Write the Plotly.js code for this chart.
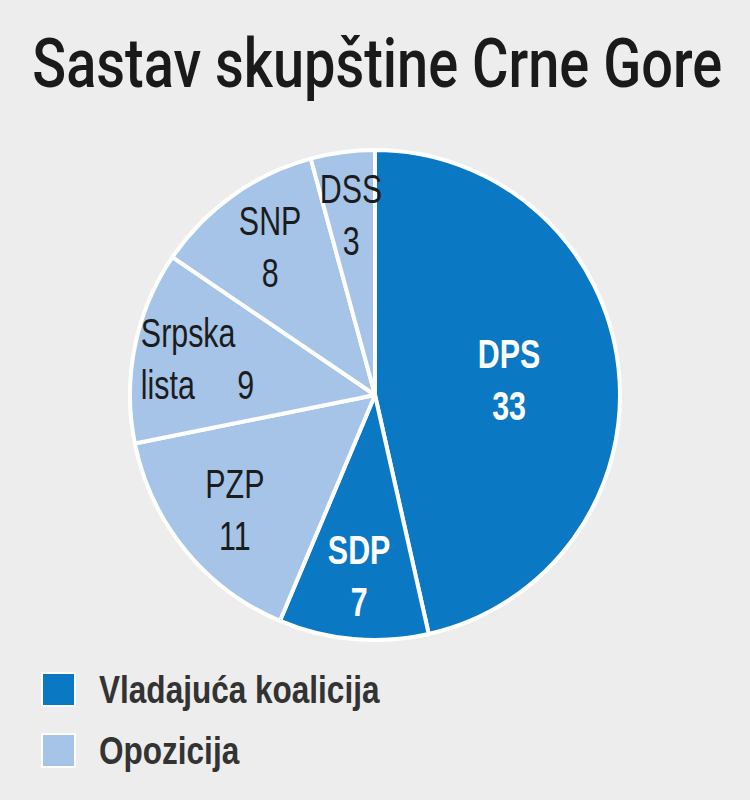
<!DOCTYPE html>
<html>
<head>
<meta charset="utf-8">
<script src="https://cdn.plot.ly/plotly-3.0.1.min.js"></script>
<style>
  html, body { margin: 0; padding: 0; background: #ededed; }
  #chart { width: 750px; height: 800px; }
</style>
</head>
<body>
<div id="chart"></div>
<script>
  // Seats in the Montenegrin parliament, clockwise from 12 o'clock
  var PARTIES = ["DPS", "SDP", "PZP", "Srpska lista", "SNP", "DSS"];
  var SEATS = [33, 7, 11, 9, 8, 3];
  var BLOC = ["Vladajuća koalicija", "Vladajuća koalicija", "Opozicija", "Opozicija", "Opozicija", "Opozicija"];
  var BLOCS = ["Vladajuća koalicija", "Opozicija"];

  var BLOC_COLORS = {
    "Vladajuća koalicija": "#0b78c3",
    "Opozicija": "#a5c4e8"
  };
  var BLOC_TEXT = {
    "Vladajuća koalicija": { color: "#ffffff", weight: 700 },
    "Opozicija": { color: "#1c1c1c", weight: 400 }
  };

  // no condensed face installed, so text gets squeezed after render
  var FONT = '"Liberation Sans", Arial, sans-serif';
  var TITLE_FONT = 'Roboto, "Liberation Sans", sans-serif';
  var W = 750, H = 800;
  var DOMAIN = { x: [130 / W, 620 / W], y: [1 - 640 / H, 1 - 150 / H] };

  function sliceLabels() {
    var total = SEATS.reduce(function (a, b) { return a + b; }, 0);
    var cx = (DOMAIN.x[0] + DOMAIN.x[1]) / 2 * W;
    var cy = (DOMAIN.y[0] + DOMAIN.y[1]) / 2 * H;
    var r = Math.min((DOMAIN.x[1] - DOMAIN.x[0]) * W, (DOMAIN.y[1] - DOMAIN.y[0]) * H) / 2;
    var acc = 0;
    return PARTIES.map(function (name, i) {
      var share = SEATS[i] / total;
      var mid = (acc + share / 2) * 2 * Math.PI;
      acc += share;
      var frac = share > 0.4 ? 0.55 : 0.74;
      var px = cx + r * frac * Math.sin(mid);
      var py = cy + r * frac * Math.cos(mid);
      var words = name.split(" ");
      var text = words.length > 1
        ? words[0] + "<br>" + words.slice(1).join(" ") + "     " + SEATS[i]
        : name + "<br>" + SEATS[i];
      var style = BLOC_TEXT[BLOC[i]];
      return {
        xref: "paper", yref: "paper",
        x: px / W, y: py / H,
        xanchor: "center", yanchor: "middle",
        text: text,
        showarrow: false,
        align: words.length > 1 ? "left" : "center",
        font: { family: FONT, size: 40, color: style.color, weight: style.weight }
      };
    });
  }

  function legendItems() {
    var shapes = [], notes = [];
    BLOCS.forEach(function (bloc, i) {
      var top = 673 + i * 61;
      shapes.push({
        type: "rect", xref: "paper", yref: "paper",
        x0: 42 / W, x1: 75 / W, y0: 1 - (top + 33) / H, y1: 1 - top / H,
        fillcolor: BLOC_COLORS[bloc], line: { color: "#ffffff", width: 2 }
      });
      notes.push({
        xref: "paper", yref: "paper",
        x: 97 / W, y: 1 - (top + 17) / H,
        xanchor: "left", yanchor: "middle",
        text: bloc, showarrow: false,
        font: { family: FONT, size: 38, color: "#333333", weight: 700 }
      });
    });
    return { shapes: shapes, notes: notes };
  }

  var legend = legendItems();

  var trace = {
    type: "pie",
    labels: PARTIES,
    values: SEATS,
    sort: false,
    direction: "clockwise",
    rotation: 0,
    domain: DOMAIN,
    textinfo: "none",
    hoverinfo: "label+value",
    marker: {
      colors: BLOC.map(function (b) { return BLOC_COLORS[b]; }),
      line: { color: "#ffffff", width: 4 }
    },
    showlegend: false
  };

  var layout = {
    width: W,
    height: H,
    margin: { t: 0, r: 0, b: 0, l: 0 },
    paper_bgcolor: "#ededed",
    plot_bgcolor: "#ededed",
    showlegend: false,
    title: {
      text: "Sastav skupštine Crne Gore",
      font: { family: TITLE_FONT, size: 68, color: "#1a1a1a", weight: 500 },
      x: 0.503, xanchor: "center",
      y: 1 - 63 / H, yanchor: "middle", yref: "container"
    },
    shapes: legend.shapes,
    annotations: sliceLabels().concat(legend.notes)
  };

  function squeeze(el, factor, anchor) {
    var box = el.getBBox();
    var ox = anchor === "left" ? box.x : box.x + box.width / 2;
    var prev = el.getAttribute("transform") || "";
    el.setAttribute("transform",
      "translate(" + ox + ",0) scale(" + factor + ",1) translate(" + (-ox) + ",0) " + prev);
  }

  Plotly.newPlot("chart", [trace], layout, { displayModeBar: false, staticPlot: true })
    .then(function (gd) {
      var title = gd.querySelector(".gtitle");
      if (title) squeeze(title, 690 / title.getBBox().width, "center");
      layout.annotations.forEach(function (a, i) {
        var el = gd.querySelector('.annotation[data-index="' + i + '"] .annotation-text');
        if (!el) return;
        if (i < PARTIES.length) squeeze(el, 0.76, "center");
        else squeeze(el, 0.83, "left");
      });
    });
</script>
</body>
</html>
